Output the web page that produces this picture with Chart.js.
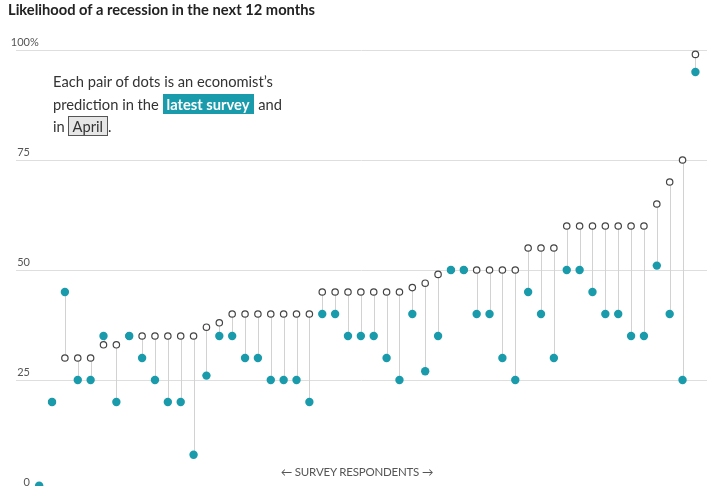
<!DOCTYPE html>
<html>
<head>
<meta charset="utf-8">
<script src="https://cdn.jsdelivr.net/npm/chart.js@4.4.1/dist/chart.umd.min.js"></script>
<style>
  html, body { margin: 0; padding: 0; background: #fff; overflow: hidden; }
  body { width: 714px; height: 486px; position: relative; font-family: Lato, "Noto Sans", sans-serif; }
  #wrap { position: absolute; left: 0; top: 0; width: 714px; height: 500px; }
  #title { position: absolute; left: 8px; top: 0px; font-size: 14.7px; font-weight: bold; color: #222; }
  #note { position: absolute; left: 53px; top: 70px; font-size: 14.7px; line-height: 22.5px; color: #333; }
  .latest { background: #1a9bac; color: #fff; font-weight: bold; padding: 1px 5px 1px 4px; }
  .april { background: #e6e6e6; border: 1px solid #555; padding: 0 4px 0 3px; }
  #axisx { position: absolute; left: 0; width: 714px; top: 465px; text-align: center; font-size: 11.5px; color: #555; letter-spacing: -0.2px; }
</style>
</head>
<body>
<div id="wrap"><canvas id="chart"></canvas></div>
<div id="title">Likelihood of a recession in the next 12 months</div>
<div id="note">Each pair of dots is an economist’s<br>prediction in the <span class="latest">latest survey</span> and<br>in <span class="april">April</span>.</div>
<div id="axisx">← SURVEY RESPONDENTS →</div>
<script>
// one entry per respondent, sorted by the April forecast
let april = [0, 20, 30, 30, 30, 33, 33, 35, 35, 35, 35, 35, 35, 37, 38, 40, 40, 40, 40, 40, 40, 40,
  45, 45, 45, 45, 45, 45, 45, 46, 47, 49, 50, 50, 50, 50, 50, 50, 55, 55, 55,
  60, 60, 60, 60, 60, 60, 60, 65, 70, 75, 99]
let latest = [1, 20, 45, 25, 25, 35, 20, 35, 30, 25, 20, 20, 8, 26, 35, 35, 30, 30, 25, 25, 25, 20,
  40, 40, 35, 35, 35, 30, 25, 40, 27, 35, 50, 50, 40, 40, 30, 25, 45, 40, 30,
  50, 50, 45, 40, 40, 35, 35, 51, 40, 25, 95]
let yTicks = [0, 25, 50, 75, 100]

let aprilPts = april.map((v, i) => ({ x: i, y: v }))
let latestPts = latest.map((v, i) => ({ x: i, y: v }))

let stems = {
  id: "stems",
  beforeDatasetsDraw(chart) {
    let ctx = chart.ctx
    let a = chart.getDatasetMeta(0).data
    let b = chart.getDatasetMeta(1).data
    ctx.save()
    ctx.strokeStyle = "#d2d2d2"
    ctx.lineWidth = 1
    for (let i = 0; i < a.length; i++) {
      ctx.beginPath()
      ctx.moveTo(Math.round(a[i].x) + 0.5, a[i].y)
      ctx.lineTo(Math.round(a[i].x) + 0.5, b[i].y)
      ctx.stroke()
    }
    ctx.restore()
  }
}

let tickText = {
  id: "tickText",
  afterDraw(chart) {
    let ctx = chart.ctx
    let y = chart.scales.y
    ctx.save()
    ctx.font = "11px Lato, 'Noto Sans', sans-serif"
    ctx.fillStyle = "#555"
    ctx.textBaseline = "bottom"
    yTicks.forEach(t => {
      let py = y.getPixelForValue(t) - 2
      ctx.textAlign = "right"
      ctx.fillText(String(t), 30, py)
      if (t === 100) {
        ctx.textAlign = "left"
        ctx.fillText("%", 30, py)
      }
    })
    ctx.restore()
  }
}

new Chart(document.getElementById("chart"), {
  type: "scatter",
  data: {
    datasets: [
      {
        data: aprilPts,
        order: 2,
        pointRadius: 3.2,
        pointBorderWidth: 1.2,
        pointBackgroundColor: "#fff",
        pointBorderColor: "#444",
        clip: false
      },
      {
        data: latestPts,
        order: 1,
        pointRadius: 4.2,
        pointBorderWidth: 0,
        pointBackgroundColor: "#1a9bac",
        pointBorderColor: "#1a9bac",
        clip: false
      }
    ]
  },
  options: {
    responsive: true,
    maintainAspectRatio: false,
    animation: false,
    layout: { padding: { left: 16, right: 7, top: 50, bottom: 10 } },
    plugins: { legend: { display: false }, tooltip: { enabled: false } },
    scales: {
      x: { type: "linear", min: -1.8, max: 51.9, display: false },
      y: {
        min: 0, max: 100,
        afterBuildTicks: s => { s.ticks = yTicks.map(v => ({ value: v })) },
        ticks: { display: false },
        border: { display: false },
        grid: { color: "#dedede", drawTicks: false, lineWidth: 1 }
      }
    }
  },
  plugins: [stems, tickText]
})
</script>
</body>
</html>
